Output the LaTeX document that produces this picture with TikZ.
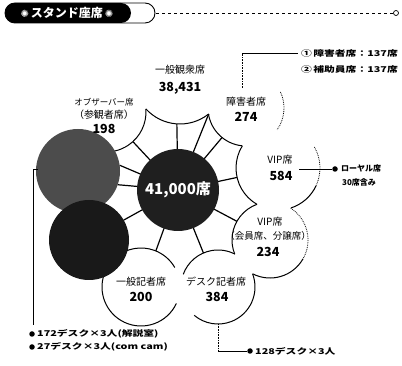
\documentclass[tikz,border=0pt]{standalone}
\usepackage{fontspec}
\newfontfamily\jp{Noto Sans CJK JP}
\newfontfamily\jpw[FakeStretch=1.35]{Noto Sans CJK JP}
\newfontfamily\symf{DejaVu Sans}
\usetikzlibrary{calc}
\begin{document}
\begin{tikzpicture}[x=1pt,y=-1pt,
  lbl/.style={font=\jp\fontsize{10}{11}\selectfont, inner sep=0pt},
  num/.style={font=\jp\bfseries\fontsize{12.5}{13}\selectfont, inner sep=0pt},
  note/.style={font=\jpw\bfseries\fontsize{8}{9}\selectfont, inner sep=0pt, anchor=west},
  smallnote/.style={font=\jp\bfseries\fontsize{8}{9}\selectfont, inner sep=0pt, anchor=west},
  bul/.style={circle, fill=black, inner sep=0pt, minimum size=5.5pt},
  petal/.style={line width=1pt},
  dotarc/.style={line width=0.8pt, densely dotted},
  spoke/.style={line width=1.2pt},
  lead/.style={line width=0.6pt},
  leaddots/.style={line width=0.6pt, densely dotted}
]
\fill[white] (0,0) rectangle (402,366);
\useasboundingbox (0,0) rectangle (402,366);

% header
\draw[line width=0.9pt, rounded corners=10pt] (5,3) rectangle (155,23);
\fill[rounded corners=10pt] (5,3) rectangle (131,23);
\node[text=white, font=\jp\bfseries\fontsize{12}{13}\selectfont, inner sep=0pt] (hdr) at (67,13) {{\symf\fontsize{10}{10}\selectfont ✺}\,スタンド座席\,{\symf\fontsize{10}{10}\selectfont ✺}};
\coordinate (hdrend) at (156,13);
\node[circle, draw, line width=0.7pt, minimum size=5pt, inner sep=0pt] (ring) at (396,13) {};
\draw[dashed, line width=0.6pt] (hdrend) -- (ring);

% petal centres
\coordinate (c0) at (178,190);
\coordinate (Pobs) at (106,112);
\coordinate (Pgen) at (180,78);
\coordinate (Pdis) at (246,108);
\coordinate (Pvipa) at (278,168);
\coordinate (Pvipb) at (270,240);
\coordinate (Pdesk) at (218,287);
\coordinate (Prep) at (141,287);

% petal arcs
\draw[petal] (Pobs) ++(-4:40) arc[start angle=-4, end angle=100, radius=40];
\draw[petal] (Pgen) ++(52:46) arc[start angle=52, end angle=138, radius=46];
\draw[petal] (Pdis) ++(96:38) arc[start angle=96, end angle=171, radius=38];
\draw[dotarc] (Pdis) ++(-25:38) arc[start angle=-25, end angle=35, radius=38];
\draw[petal] (Pvipa) ++(120:42) arc[start angle=120, end angle=212, radius=42];
\draw[dotarc] (Pvipa) ++(-30:42) arc[start angle=-30, end angle=25, radius=42];
\draw[petal] (Pvipa) ++(25:42) arc[start angle=25, end angle=72, radius=42];
\draw[petal] (Pvipb) ++(158:38) arc[start angle=158, end angle=250, radius=38];
\draw[dotarc] (Pvipb) ++(-57:38) arc[start angle=-57, end angle=30, radius=38];
\draw[petal] (Pvipb) ++(30:38) arc[start angle=30, end angle=117, radius=38];
\draw[petal] (Pdesk) ++(200:37) arc[start angle=200, end angle=297, radius=37];
\draw[petal] (Pdesk) ++(-21:37) arc[start angle=-21, end angle=130, radius=37];
\draw[petal] (Prep) ++(230:39) arc[start angle=230, end angle=330, radius=39];
\draw[petal] (Prep) ++(25:39) arc[start angle=25, end angle=200, radius=39];

% spokes
\foreach \a/\t in {-175/60.5,-157/63.5,-133/66,-91/66,-68/82,-50/68.5,-12/60.4,28/66.7,68/67.9,110/64.8,151/62.1}
  \draw[spoke] ($(c0)+(\a:38)$) -- ($(c0)+(\a:\t)$);

% dark circles
\node[circle, fill=black!70, minimum size=84pt, inner sep=0pt] (U) at (78,171) {};
\node[circle, fill=black!90, minimum size=80pt, inner sep=0pt] (L) at (89,240) {};
\node[circle, fill=black!88, minimum size=82pt, inner sep=0pt, text=white,
      font=\jp\bfseries\fontsize{15}{16}\selectfont] (C) at (c0) {41,000席};

% labels
\node[lbl, font=\jp\fontsize{8.5}{10}\selectfont] (tobs1) at (104,102) {オブザーバー席};
\node[lbl] (tobs2) at (104,115) {（参観者席）};
\node[num] (tobs3) at (104,129) {198};
\node[lbl] (tgen1) at (180,70) {一般観衆席};
\node[num] (tgen2) at (180,88) {38,431};
\node[lbl] (tdis1) at (246,102) {障害者席};
\node[num] (tdis2) at (246,117) {274};
\node[lbl] (tva1) at (280,160) {VIP席};
\node[num] (tva2) at (281,176) {584};
\node[lbl] (tvb1) at (270,222) {VIP席};
\node[lbl, font=\jp\fontsize{9.5}{10}\selectfont] (tvb2) at (268,236) {（会員席、分譲席）};
\node[num] (tvb3) at (268,252) {234};
\node[lbl] (trep1) at (141,282) {一般記者席};
\node[num] (trep2) at (141,297) {200};
\node[lbl] (tdesk1) at (216,282) {デスク記者席};
\node[num] (tdesk2) at (217,297) {384};

% top notes
\coordinate (d1) at (242,88);
\node[note] (n1) at (301,53) {①\,障害者席：137席};
\node[note] (n2) at (301,69) {②\,補助員席：137席};
\draw[leaddots] (d1) -- (d1 |- n1.west);
\draw[lead] (d1 |- n1.west) -- ([xshift=-3pt]n1.west);

% VIP note
\coordinate (v1) at (299,169);
\node[bul] (b3) at (335,169) {};
\draw[lead] (v1) -- (b3);
\node[smallnote] (n3) at (341,168) {ローヤル席};
\node[smallnote] (n3b) at (342,182) {30席含み};

% bottom right note
\coordinate (d2) at (218,324);
\node[bul] (b6) at (250,351) {};
\node[note] (n6) at (255,351) {128デスク×3人};
\draw[leaddots] (d2) -- (d2 |- b6);
\draw[lead] (d2 |- b6) -- (b6);

% left notes
\coordinate (d3) at (38,169);
\coordinate (d4) at (33,325);
\draw[lead] (d3) -| (d4);
\node[bul] (b1) at (32,334) {};
\node[note] (n4) at (37,334) {172デスク×3人(解説室)};
\node[bul] (b2) at (32,347) {};
\node[note] (n5) at (37,347) {27デスク×3人(com cam)};
\end{tikzpicture}
\end{document}
